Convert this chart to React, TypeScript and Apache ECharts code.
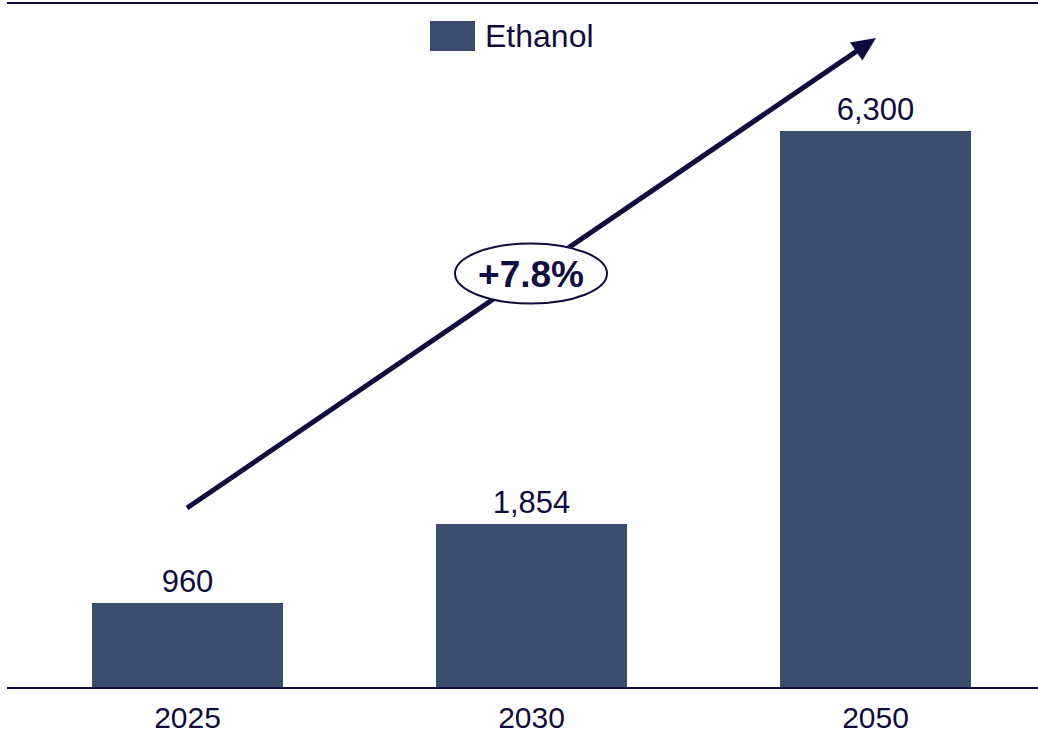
import React, { useEffect, useRef } from "react";
import * as echarts from "echarts";

const categories = ["2025", "2030", "2050"];
const ethanolValues = [960, 1854, 6300];
const seriesName = "Ethanol";
const growthLabel = "+7.8%";

const BAR = "#3a4d6c";
const INK = "#110c40";
const CHART_W = 1070;

export default function App() {
  const ref = useRef<HTMLDivElement>(null);
  useEffect(() => {
    if (!ref.current) return;
    const chart = echarts.init(ref.current, null, { renderer: "svg" });
    const tip = [876, 38];
    const start = [187, 508];
    const dx = tip[0] - start[0];
    const dy = tip[1] - start[1];
    const len = Math.sqrt(dx * dx + dy * dy);
    const ux = dx / len, uy = dy / len;
    const headLen = 24, headHalf = 11;
    const base = [tip[0] - ux * headLen, tip[1] - uy * headLen];
    const px = -uy, py = ux;
    chart.setOption({
      animation: false,
      textStyle: { fontFamily: "Liberation Sans, Arial, sans-serif" },
      legend: {
        data: [seriesName],
        left: 430,
        top: 20,
        padding: 0,
        itemWidth: 45,
        itemHeight: 30,
        itemGap: 10,
        icon: "rect",
        textStyle: { fontSize: 32, color: INK, fontFamily: "Liberation Sans, Arial, sans-serif", padding: [0, 0, 0, 5] },
      },
      grid: { left: 15.5, right: CHART_W - 1047.5, top: 69, bottom: 733 - 688, containLabel: false },
      xAxis: {
        type: "category",
        data: categories,
        axisLine: { show: false },
        axisTick: { show: false },
        axisLabel: { fontSize: 30, lineHeight: 30, color: INK, margin: 14 },
      },
      yAxis: { type: "value", min: 0, max: 7000, show: false, splitLine: { show: false } },
      series: [
        {
          name: seriesName,
          type: "bar",
          data: ethanolValues,
          barWidth: 191,
          itemStyle: { color: BAR },
          label: {
            show: true,
            position: "top",
            distance: 6,
            fontSize: 31,
            color: INK,
            formatter: (p: any) => Number(p.value).toLocaleString("en-US"),
          },
        },
      ],
      graphic: [
        { type: "line", shape: { x1: 7, y1: 3, x2: 1038, y2: 3 }, style: { stroke: INK, lineWidth: 2 } },
        { type: "line", shape: { x1: 7, y1: 688, x2: 1038, y2: 688 }, style: { stroke: INK, lineWidth: 2 }, z: 10 },
        {
          type: "line",
          shape: { x1: start[0], y1: start[1], x2: base[0] + ux * 2, y2: base[1] + uy * 2 },
          style: { stroke: INK, lineWidth: 5 },
          z: 20,
        },
        {
          type: "polygon",
          shape: {
            points: [
              tip,
              [base[0] + px * headHalf, base[1] + py * headHalf],
              [base[0] - px * headHalf, base[1] - py * headHalf],
            ],
          },
          style: { fill: INK },
          z: 20,
        },
        {
          type: "ellipse",
          shape: { cx: 531, cy: 273.5, rx: 76, ry: 30 },
          style: { fill: "#ffffff", stroke: INK, lineWidth: 2 },
          z: 30,
        },
        {
          type: "text",
          x: 531,
          y: 274,
          style: {
            text: growthLabel,
            fill: INK,
            fontSize: 37,
            fontWeight: "bold",
            fontFamily: "Liberation Sans, Arial, sans-serif",
            align: "center",
            verticalAlign: "middle",
          },
          z: 31,
        },
      ],
    });
    return () => chart.dispose();
  }, []);
  return (
    <div
      style={{ position: "absolute", left: 0, top: 0, width: 1038, height: 733, overflow: "hidden", background: "#ffffff" }}
    >
      <div ref={ref} style={{ width: CHART_W, height: 733 }} />
    </div>
  );
}
